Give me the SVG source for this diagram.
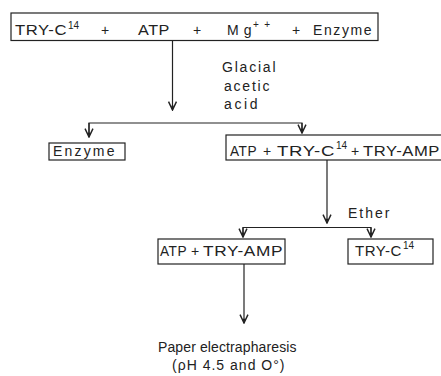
<svg xmlns="http://www.w3.org/2000/svg" width="441" height="376" viewBox="0 0 441 376">
<style>
.box{fill:none;stroke:#222;stroke-width:1.2}
.ln{fill:none;stroke:#222;stroke-width:1.2}
.arr{marker-end:url(#ah)}
text{font-family:"Liberation Sans","DejaVu Sans",sans-serif;font-size:14px;fill:#222;letter-spacing:0.5px}
.sup{font-size:10px;letter-spacing:0}
</style>
<defs>
<marker id="ah" markerUnits="userSpaceOnUse" markerWidth="12" markerHeight="12" viewBox="-9 -5 10 10" refX="0" refY="0" orient="auto">
<path d="M-7,-3.3 L0,0 L-7,3.3" fill="none" stroke="#222" stroke-width="1.2"/>
<path d="M-3.5,-1.2 L0,0 L-3.5,1.2 Z" fill="#222"/>
</marker>
</defs>
<g id="connectors">
<line class="ln arr" x1="172.5" y1="40" x2="172.5" y2="110"/>
<polyline class="ln" points="89,135 89,123 302,123 302,132"/>
<line class="ln arr" x1="89" y1="123" x2="89" y2="137"/>
<line class="ln arr" x1="302" y1="123" x2="302" y2="133"/>
<line class="ln arr" x1="327" y1="160" x2="327" y2="223"/>
<polyline class="ln" points="243,236 243,227.5 371,227.5 371,236"/>
<line class="ln arr" x1="243" y1="227.5" x2="243" y2="237"/>
<line class="ln arr" x1="371" y1="227.5" x2="371" y2="237"/>
<line class="ln arr" x1="244" y1="264" x2="244" y2="323"/>
<text x="222" y="72" textLength="54" lengthAdjust="spacing">Glacial</text>
<text x="224" y="91" textLength="46" lengthAdjust="spacing">acetic</text>
<text x="224" y="109" textLength="34" lengthAdjust="spacing">acid</text>
<text x="348" y="218" textLength="42" lengthAdjust="spacing">Ether</text>
</g>
<g id="reactants">
<rect class="box" x="11" y="13" width="367" height="27.5"/>
<text x="15" y="35" textLength="52" lengthAdjust="spacingAndGlyphs">TRY-C</text>
<text class="sup" x="68" y="29">14</text>
<text x="101" y="35">+</text>
<text x="138" y="35" textLength="32" lengthAdjust="spacingAndGlyphs">ATP</text>
<text x="193" y="35">+</text>
<text x="227" y="35" textLength="25" lengthAdjust="spacing">Mg</text>
<text class="sup" x="253" y="28" textLength="17" lengthAdjust="spacing">++</text>
<text x="292" y="35">+</text>
<text x="313" y="35" textLength="59" lengthAdjust="spacing">Enzyme</text>
</g>
<g id="enzyme">
<rect class="box" x="49" y="143" width="76" height="17"/>
<text x="53" y="156" textLength="62" lengthAdjust="spacing">Enzyme</text>
</g>
<g id="mixture">
<rect class="box" x="226" y="135" width="216" height="25"/>
<text x="230" y="156" textLength="27" lengthAdjust="spacingAndGlyphs">ATP</text>
<text x="263" y="156">+</text>
<text x="277" y="156" textLength="58" lengthAdjust="spacingAndGlyphs">TRY-C</text>
<text class="sup" x="336" y="149">14</text>
<text x="351" y="156">+</text>
<text x="363" y="156" textLength="77" lengthAdjust="spacingAndGlyphs">TRY-AMP</text>
</g>
<g id="atp-amp">
<rect class="box" x="158" y="239" width="127" height="25"/>
<text x="160" y="256" textLength="27" lengthAdjust="spacingAndGlyphs">ATP</text>
<text x="191" y="256">+</text>
<text x="203" y="256" textLength="80" lengthAdjust="spacingAndGlyphs">TRY-AMP</text>
</g>
<g id="try-c14">
<rect class="box" x="348" y="239" width="85" height="25"/>
<text x="355" y="256" textLength="47" lengthAdjust="spacingAndGlyphs">TRY-C</text>
<text class="sup" x="403" y="249">14</text>
</g>
<g id="electrophoresis">
<text x="158" y="352" textLength="139" lengthAdjust="spacing">Paper electrapharesis</text>
<text x="172" y="370" textLength="113" lengthAdjust="spacing">(ρH 4.5 and O°)</text>
</g>
</svg>
